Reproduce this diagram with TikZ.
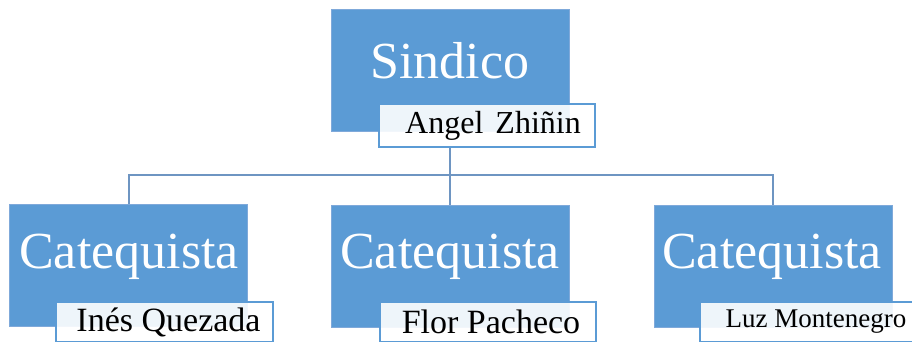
\documentclass[tikz,border=0pt]{standalone}
\usepackage{fontspec}
\setmainfont{Liberation Serif}
\definecolor{boxblue}{HTML}{5B9BD5}
\definecolor{edgeblue}{HTML}{7FA9DA}
\definecolor{linkblue}{HTML}{6E95C2}
\tikzset{
  bigbox/.style={draw=edgeblue, line width=0.8pt, fill=boxblue, minimum width=238pt, minimum height=122pt, inner sep=0pt},
  bigtext/.style={text=white, font=\fontsize{52}{60}\selectfont, inner sep=0pt},
  namebox/.style={draw=boxblue, line width=1.1pt, fill=white, fill opacity=0.9, text opacity=1, minimum width=216pt, inner sep=0pt},
  conn/.style={draw=linkblue, line width=2pt}
}
\begin{document}
\begin{tikzpicture}[x=1pt,y=-1pt]
\useasboundingbox (0,0) rectangle (912,341);
% boxes
\node[bigbox] (s) at (450,70.5) {};
\node[bigbox] (c1) at (128.5,265.5) {};
\node[bigbox] (c2) at (450,266) {};
\node[bigbox] (c3) at (773,266) {};
% texts
\node[bigtext] (st) at (450,61) {Sindico};
\node[bigtext] (c1t) at (129,257) {Catequista};
\node[bigtext] (c2t) at (450,257) {Catequista};
\node[bigtext] (c3t) at (772,257) {Catequista};
% name labels
\node[namebox, minimum height=43pt, font=\fontsize{32}{36}\selectfont] (sl) at (487,125.5) {\hspace{12pt}Angel\hspace{4pt} Zhiñin};
\node[namebox, minimum width=217pt, minimum height=40pt, font=\fontsize{34}{38}\selectfont] (c1l) at (164.5,322) {\hspace{8pt}Inés Quezada};
\node[namebox, minimum height=40pt, font=\fontsize{34}{38}\selectfont] (c2l) at (488,322) {\hspace{6pt}Flor Pacheco};
\node[namebox, minimum width=232pt, minimum height=40pt, font=\fontsize{27}{32}\selectfont] (c3l) at (816,322) {Luz Montenegro};
% connectors
\coordinate (bus) at (450,175);
\draw[conn] (s |- sl.south) -- (bus);
\draw[conn] (bus) -| (c1.north);
\draw[conn] (bus) -| (c3.north);
\draw[conn] (bus) -- (c2.north);
\end{tikzpicture}
\end{document}
